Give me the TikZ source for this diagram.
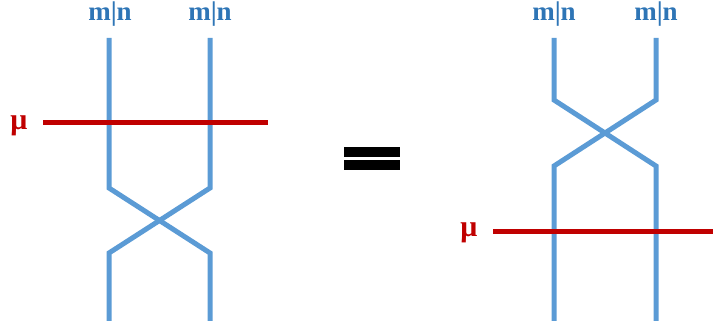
\documentclass[tikz,border=0pt]{standalone}
\usepackage{fontspec}
\setmainfont{Liberation Serif}
\definecolor{strand}{HTML}{5B9BD5}
\definecolor{lab}{HTML}{2E75B6}
\definecolor{mu}{HTML}{C00000}
\tikzset{
	strandline/.style={strand, line width=5pt},
	muline/.style={mu, line width=5pt},
	toplabel/.style={lab, inner sep=0pt, anchor=base, font=\fontsize{27}{27}\selectfont\bfseries},
	mulabel/.style={mu, inner sep=0pt, anchor=base, font=\fontsize{30}{30}\selectfont\bfseries}
}
\begin{document}
\begin{tikzpicture}[x=1pt, y=-1pt]
	\useasboundingbox (0,0) rectangle (713,321);
	% left side
	\path
	(109,38) coordinate (LA1) (210,38) coordinate (LB1)
	(109,188) coordinate (LA2) (210,188) coordinate (LB2)
	(109,253) coordinate (LA3) (210,253) coordinate (LB3)
	(109,321) coordinate (LA4) (210,321) coordinate (LB4)
	(43,123) coordinate (LM1) (268,123) coordinate (LM2);
	\node[toplabel] (la) at (110,21) {m|n};
	\node[toplabel] (lb) at (210,21) {m|n};
	\node[mulabel] (lmu) at (19,129) {μ};
	\draw[strandline] (LA1)--(LA2)--(LB3)--(LB4);
	\draw[strandline] (LB1)--(LB2)--(LA3)--(LA4);
	\draw[muline] (LM1)--(LM2);
	% equals sign
	\fill (344,147) rectangle (400,157);
	\fill (344,160) rectangle (400,170);
	% right side
	\path
	(554,38) coordinate (RA1) (656,38) coordinate (RB1)
	(554,100) coordinate (RA2) (656,100) coordinate (RB2)
	(554,166) coordinate (RA3) (656,166) coordinate (RB3)
	(554,321) coordinate (RA4) (656,321) coordinate (RB4)
	(493,231) coordinate (RM1) (713,231) coordinate (RM2);
	\node[toplabel] (ra) at (554,21) {m|n};
	\node[toplabel] (rb) at (656,21) {m|n};
	\node[mulabel] (rmu) at (469,236) {μ};
	\draw[strandline] (RA1)--(RA2)--(RB3)--(RB4);
	\draw[strandline] (RB1)--(RB2)--(RA3)--(RA4);
	\draw[muline] (RM1)--(RM2);
\end{tikzpicture}
\end{document}
